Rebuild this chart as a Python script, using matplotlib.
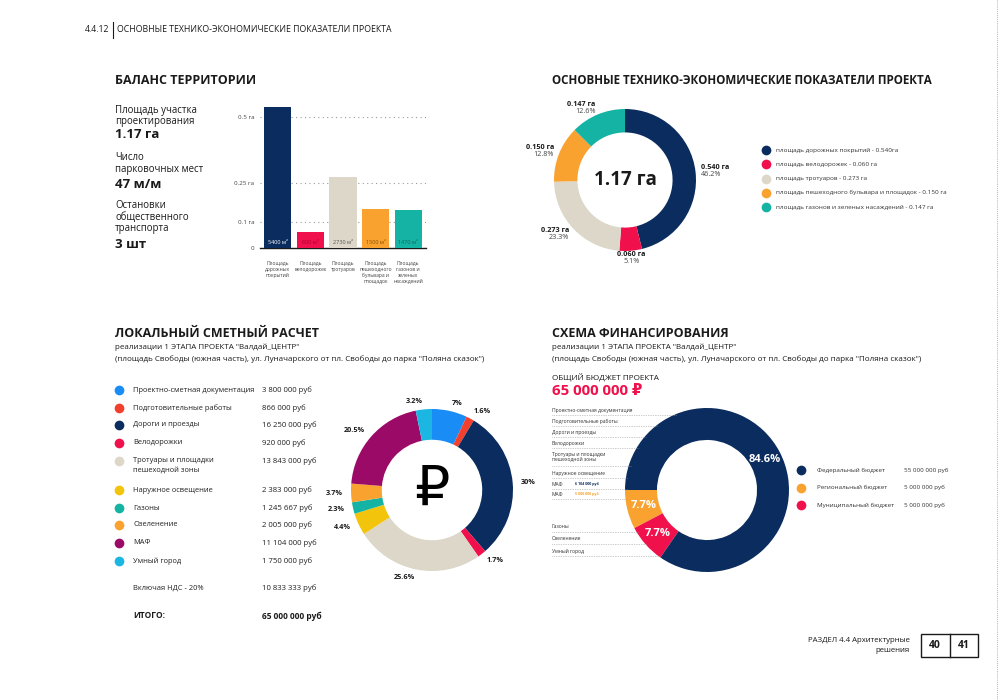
import numpy as np
import matplotlib
matplotlib.use("Agg")
import matplotlib.pyplot as plt
from matplotlib.lines import Line2D
from matplotlib.patches import Rectangle

plt.rcParams['font.family'] = ['Open Sans', 'DejaVu Sans']

# ---------------- данные ----------------
# баланс территории
bar_labels = ["Площадь\nдорожных\nпокрытий", "Площадь\nвелодорожек", "Площадь\nтротуаров",
              "Площадь\nпешеходного\nбульвара и\nплощадок", "Площадь\nгазонов и\nзеленых\nнасаждений"]
bar_values = [0.540, 0.060, 0.273, 0.150, 0.147]
bar_m2 = ["5400 м²", "600 м²", "2730 м²", "1500 м²", "1470 м²"]
yticks = [0, 0.1, 0.25, 0.5]
ytick_labels = ["0", "0.1 га", "0.25 га", "0.5 га"]

info_labels = ["Площадь участка\nпроектирования", "Число\nпарковочных мест", "Остановки\nобщественного\nтранспорта"]
info_values = ["1.17 га", "47 м/м", "3 шт"]

# ТЭП
tep_names = ["площадь дорожных покрытий - 0.540га", "площадь велодорожек - 0.060 га",
             "площадь тротуаров - 0.273 га", "площадь пешеходного бульвара и площадок - 0.150 га",
             "площадь газонов и зеленых насаждений - 0.147 га"]
tep_pct = ["46.2%", "5.1%", "23.3%", "12.8%", "12.6%"]
tep_total = "1.17 га"

# локальный сметный расчет
smeta_names = ["Проектно-сметная документация", "Подготовительные работы", "Дороги и проезды",
               "Велодорожки", "Тротуары и площадки\nпешеходной зоны", "Наружное освещение",
               "Газоны", "Озеленение", "МАФ", "Умный город"]
smeta_values = [3800000, 866000, 16250000, 920000, 13843000, 2383000, 1245667, 2005000, 11104000, 1750000]
smeta_pct = ["7%", "1.6%", "30%", "1.7%", "25.6%", "4.4%", "2.3%", "3.7%", "20.5%", "3.2%"]
nds = 10833333
itogo = 65000000

# схема финансирования
fin_names = ["Федеральный бюджет", "Региональный бюджет", "Муниципальный бюджет"]
fin_values = [55000000, 5000000, 5000000]
fin_pct = ["84.6%", "7.7%", "7.7%"]
fin_left = ["Проектно-сметная документация", "Подготовительные работы", "Дороги и проезды",
            "Велодорожки", "Тротуары и площадки\nпешеходной зоны", "Наружное освещение",
            "МАФ", "МАФ", "Газоны", "Озеленение", "Умный город"]
maf_parts = ["6 104 000 руб", "5 000 000 руб"]

# цвета
NAVY, CRIMSON, BEIGE, ORANGE, TEAL = "#0b2c5e", "#f0104c", "#ddd7ca", "#f9a22f", "#14b3a3"
bar_colors = [NAVY, CRIMSON, BEIGE, ORANGE, TEAL]
bar_text_colors = ["white", "#a8002c", "#555555", "#8a5200", "#0a6b62"]
smeta_colors = ["#1a8cf5", "#f2402e", NAVY, CRIMSON, BEIGE, "#f2c40c", TEAL, ORANGE, "#9c0a68", "#1cb6e2"]
fin_colors = [NAVY, ORANGE, CRIMSON]
TXT = "#1a1a1a"

W, H = 1000, 700
fig = plt.figure(figsize=(10, 7), dpi=100)
fig.patch.set_facecolor("white")


def txt(x, y, s, size, weight="normal", color=TXT, ha="left", va="center", **kw):
    return fig.text(x / W, 1 - y / H, s, fontsize=size, fontweight=weight, color=color,
                    ha=ha, va=va, **kw)


def axes_px(x0, y0, x1, y1):
    return fig.add_axes([x0 / W, 1 - y1 / H, (x1 - x0) / W, (y1 - y0) / H])


def line_px(xs, ys, **kw):
    fig.add_artist(Line2D([x / W for x in xs], [1 - y / H for y in ys],
                          transform=fig.transFigure, **kw))


def dot_px(x, y, color, size=7):
    fig.add_artist(Line2D([x / W], [1 - y / H], marker="o", markersize=size, color=color,
                          markeredgewidth=0, transform=fig.transFigure))


def fmt_rub(v):
    return f"{v:,}".replace(",", " ") + " руб"


# ---------------- шапка ----------------
txt(85, 30, "4.4.12", 6.3)
line_px([113, 113], [22, 38], color=TXT, lw=0.8)
txt(117, 30, "ОСНОВНЫЕ ТЕХНИКО-ЭКОНОМИЧЕСКИЕ ПОКАЗАТЕЛИ ПРОЕКТА", 6.3)
line_px([997, 997], [0, 700], color="#999999", lw=0.6, linestyle=(0, (1, 1.5)))

# ---------------- баланс территории ----------------
txt(115, 80, "БАЛАНС ТЕРРИТОРИИ", 9, "bold")
info_y = [(116, 135), (163.5, 184), (217, 245)]
for lab, val, (ly, vy) in zip(info_labels, info_values, info_y):
    txt(115, ly, lab, 6.9, linespacing=1.12)
    txt(115, vy, val, 9.5, "bold")

ax = axes_px(260, 104, 426, 248)
x = np.arange(len(bar_values))
ax.bar(x, bar_values, width=0.83, color=bar_colors, zorder=3)
for xi, lab, c in zip(x, bar_m2, bar_text_colors):
    ax.text(xi, 0.012, lab, ha="center", va="bottom", fontsize=4.0, color=c, zorder=4)
ax.set_xlim(-0.55, 4.55)
ax.set_ylim(0, 0.55)
ax.set_yticks(yticks)
ax.set_yticklabels(ytick_labels, fontsize=4.5, color="#444444")
ax.set_xticks(x)
ax.set_xticklabels(bar_labels, fontsize=3.6, color="#444444", linespacing=1.3, va="top")
ax.tick_params(length=0, pad=4)
ax.tick_params(axis="x", pad=9)
for s in ["top", "right", "left"]:
    ax.spines[s].set_visible(False)
ax.spines["bottom"].set_color(TXT)
ax.spines["bottom"].set_linewidth(1.0)
ax.grid(axis="y", linestyle=(0, (1, 3)), color="#9a9a9a", lw=0.8)
ax.set_axisbelow(True)
ax.patch.set_alpha(0)

# ---------------- ТЭП ----------------
txt(552, 80, "ОСНОВНЫЕ ТЕХНИКО-ЭКОНОМИЧЕСКИЕ ПОКАЗАТЕЛИ ПРОЕКТА", 8.4, "bold")
cx, cy, r = 625, 180, 71
ax2 = axes_px(cx - r, cy - r, cx + r, cy + r)
wedges, _ = ax2.pie(bar_values, colors=bar_colors, startangle=90, counterclock=False,
                    radius=1, wedgeprops=dict(width=0.33, linewidth=0))
ax2.set_xlim(-1, 1)
ax2.set_ylim(-1, 1)
ax2.axis("off")
ax2.text(0, 0, tep_total, ha="center", va="center", fontsize=13.5, fontweight="bold", color=TXT)
for w, v, p in zip(wedges, bar_values, tep_pct):
    ang = np.deg2rad((w.theta1 + w.theta2) / 2)
    cs, sn = np.cos(ang), np.sin(ang)
    ha = "left" if cs > 0.2 else ("right" if cs < -0.2 else "center")
    ax2.text(1.08 * cs, 1.1 * sn, f"{v:.3f} га", ha=ha, va="bottom", fontsize=5.2,
             fontweight="bold", color=TXT)
    ax2.text(1.08 * cs, 1.1 * sn, p, ha=ha, va="top", fontsize=5.2, color="#444444")

for i, (name, c) in enumerate(zip(tep_names, bar_colors)):
    yy = 150 + i * 14.3
    dot_px(766, yy, c, 7)
    txt(776, yy, name, 4.6, color="#333333")

# ---------------- локальный сметный расчет ----------------
txt(115, 334, "ЛОКАЛЬНЫЙ СМЕТНЫЙ РАСЧЕТ", 9, "bold")
sub1 = "реализации 1 ЭТАПА ПРОЕКТА \"Валдай_ЦЕНТР\""
sub2 = "(площадь Свободы (южная часть), ул. Луначарского от пл. Свободы до парка \"Поляна сказок\")"
txt(115, 347, sub1, 5.8)
txt(115, 359, sub2, 5.8)

row_y = [390, 408, 425, 443, 461, 490, 508, 525, 543, 561]
for name, v, c, yy in zip(smeta_names, smeta_values, smeta_colors, row_y):
    dot_px(119, yy, c, 7)
    if "\n" in name:
        txt(133, yy - 4.5, name, 5.4, va="top", linespacing=1.55, color="#222222")
    else:
        txt(133, yy, name, 5.4, color="#222222")
    txt(262, yy, fmt_rub(v), 5.6, color="#222222")
txt(133, 588, "Включая НДС - 20%", 5.4, color="#222222")
txt(262, 588, fmt_rub(nds), 5.6, color="#222222")
txt(133, 616, "ИТОГО:", 6.0, "bold")
txt(262, 616, fmt_rub(itogo), 6.0, "bold")

cx, cy, r = 432, 490, 81
ax3 = axes_px(cx - r, cy - r, cx + r, cy + r)
ax3.pie(smeta_values, colors=smeta_colors, startangle=90, counterclock=False, radius=1,
        labels=smeta_pct, labeldistance=1.1,
        textprops=dict(fontsize=5.2, fontweight="bold", color=TXT),
        wedgeprops=dict(width=0.38, linewidth=0))
ax3.set_xlim(-1, 1)
ax3.set_ylim(-1, 1)
ax3.axis("off")
ax3.text(0, 0, "₽", ha="center", va="center", fontsize=40, color="black",
         family=["DejaVu Sans"])

# ---------------- схема финансирования ----------------
txt(552, 334, "СХЕМА ФИНАНСИРОВАНИЯ", 9, "bold")
txt(552, 347, sub1, 5.8)
txt(552, 359, sub2, 5.8)
txt(552, 377, "ОБЩИЙ БЮДЖЕТ ПРОЕКТА", 5.9)
txt(552, 391, fmt_rub(itogo).replace(" руб", " ₽"), 10.8, "bold", color=CRIMSON)

cx, cy, r = 707, 490, 82
left_y = [410, 421, 432, 443, 455, 473, 484, 494, 527, 539, 551]
for k, (name, yy) in enumerate(zip(fin_left, left_y)):
    if "\n" in name:
        txt(552, yy - 3, name, 3.6, va="top", linespacing=1.1, color="#333333")
        ly = yy + 11
    else:
        txt(552, yy, name, 3.6, color="#333333")
        ly = yy + 5
    dy = ly - cy
    x_end = cx - np.sqrt(max(r ** 2 - dy ** 2, 0)) + 2
    line_px([552, x_end], [ly, ly], color="#9a9a9a", lw=0.5, linestyle=(0, (1, 1.5)))
txt(575, 484, maf_parts[0], 2.6, "bold", color=NAVY)
txt(575, 494, maf_parts[1], 2.6, "bold", color=ORANGE)

ax4 = axes_px(cx - r, cy - r, cx + r, cy + r)
order = [1, 2, 0]
w4, _ = ax4.pie([fin_values[i] for i in order], colors=[fin_colors[i] for i in order],
                startangle=180, counterclock=True, radius=1,
                wedgeprops=dict(width=0.39, linewidth=0))
ax4.set_xlim(-1, 1)
ax4.set_ylim(-1, 1)
ax4.axis("off")
for w, i in zip(w4, order):
    ang = np.deg2rad((w.theta1 + w.theta2) / 2)
    ax4.text(0.8 * np.cos(ang), 0.8 * np.sin(ang), fin_pct[i], ha="center", va="center",
             fontsize=8, fontweight="bold", color="white")

for i, (name, v, c) in enumerate(zip(fin_names, fin_values, fin_colors)):
    yy = 470 + i * 17.5
    dot_px(801, yy, c, 7)
    txt(817, yy, name, 4.5, color="#333333")
    txt(904, yy, fmt_rub(v), 4.5, color="#333333")

# ---------------- подвал ----------------
txt(910, 640, "РАЗДЕЛ 4.4 Архитектурные", 5.6, ha="right")
txt(910, 651, "решения", 5.6, ha="right")
fig.add_artist(Rectangle((921 / W, 1 - 657 / H), 57 / W, 23 / H, fill=False, edgecolor=TXT,
                         lw=1.0, transform=fig.transFigure))
line_px([949.5, 949.5], [634, 657], color=TXT, lw=1.0)
txt(935, 645.5, "40", 7.5, "bold", ha="center")
txt(963.5, 645.5, "41", 7.5, "bold", ha="center")

fig.savefig("out.png", dpi=100, facecolor="white")
